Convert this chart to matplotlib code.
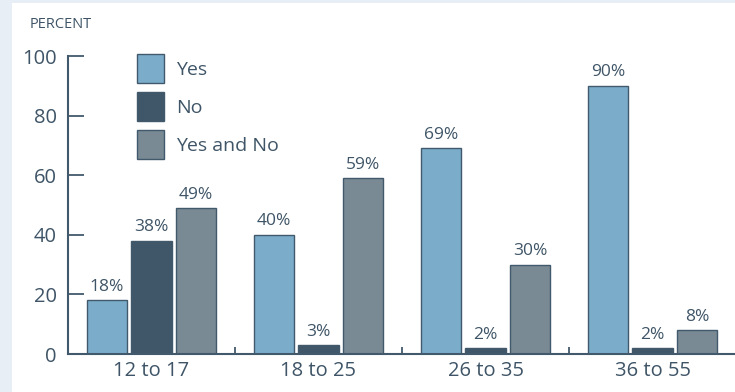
import matplotlib.pyplot as plt
import numpy as np
from matplotlib.patches import Rectangle

# Age groups and share of answers per group
age_groups = ["12 to 17", "18 to 25", "26 to 35", "36 to 55"]
answers = ["Yes", "No", "Yes and No"]
yes_pct = [18, 40, 69, 90]
no_pct = [38, 3, 2, 2]
both_pct = [49, 59, 30, 8]
y_ticks = [0, 20, 40, 60, 80, 100]

colors = ["#7badcb", "#3f5769", "#798a95"]
ink = "#3f5567"
edge = "#42596b"

plt.rcParams['font.family'] = ['Open Sans', 'DejaVu Sans']

fig = plt.figure(figsize=(7.35, 3.92), dpi=100)
fig.patch.set_facecolor("#e7eef6")
# white panel behind the chart
fig.patches.append(Rectangle((12 / 735, 0), 1, 1 - 3 / 392, transform=fig.transFigure,
                             facecolor="white", edgecolor="none", zorder=-1))

ax = fig.add_axes([68 / 735, 38 / 392, 668 / 735, 298 / 392])
ax.set_facecolor("none")
ax.set_zorder(2)

x = np.arange(len(age_groups))
width = 0.24
step = 0.266
for i, (vals, name) in enumerate(zip([yes_pct, no_pct, both_pct], answers)):
    pos = x + (i - 1) * step
    bars = ax.bar(pos, vals, width, color=colors[i], edgecolor=edge, linewidth=1.0,
                  label=name, zorder=2)
    for b, v in zip(bars, vals):
        ax.text(b.get_x() + b.get_width() / 2, v + 1.8, f"{v}%", ha="center", va="bottom",
                fontsize=12.5, color=ink)

ax.set_xlim(-0.5, len(age_groups) - 0.5)
ax.set_ylim(0, 100)
ax.set_yticks(y_ticks)
ax.set_xticks(x)
ax.set_xticklabels(age_groups)
ax.set_xticks(x[:-1] + 0.5, minor=True)

ax.tick_params(axis="y", direction="in", length=11.5, width=1.3, color=edge,
               labelsize=14.5, labelcolor=ink, pad=8)
ax.tick_params(axis="x", which="major", length=0, labelsize=14.5, labelcolor=ink, pad=5)
ax.tick_params(axis="x", which="minor", direction="in", length=5, width=1.3, color=edge)

for s in ["top", "right"]:
    ax.spines[s].set_visible(False)
for s in ["left", "bottom"]:
    ax.spines[s].set_color(edge)
    ax.spines[s].set_linewidth(1.5)

fig.text(30 / 735, 1 - 24 / 392, "PERCENT", fontsize=10.5, color=ink, va="center")

ax.legend(loc="upper left", bbox_to_anchor=(69 / 668, 1 + 2 / 298), frameon=False,
          fontsize=14, handlelength=1.39, handleheight=1.93, handletextpad=0.62,
          labelspacing=0.46, borderpad=0, borderaxespad=0, labelcolor=ink)

fig.savefig("out.png", dpi=100, facecolor=fig.get_facecolor())
